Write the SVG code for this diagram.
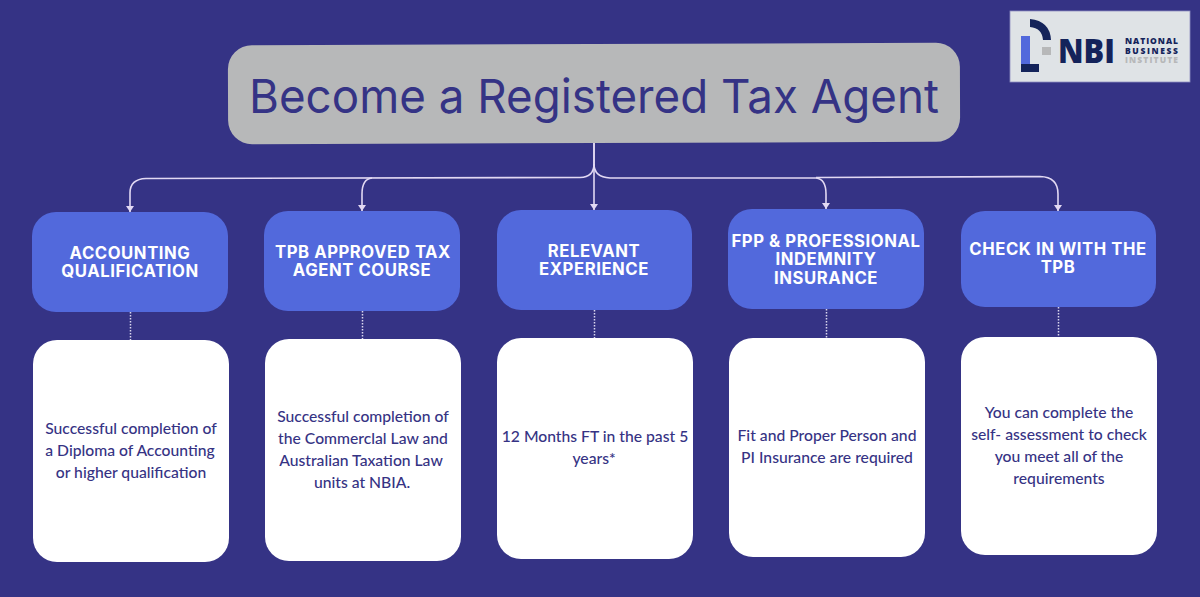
<svg xmlns="http://www.w3.org/2000/svg" width="1200" height="597" viewBox="0 0 1200 597">
<style>
.h{fill:#5269dc}
.w{fill:#fff}
.ht{font:700 16.700px Inter,"Liberation Sans",sans-serif;letter-spacing:.55px;fill:#fff;text-anchor:middle}
.bt{font:500 15.700px Lato,"Liberation Sans",sans-serif;fill:#363384;text-anchor:middle}
.c{fill:none;stroke:#e2d9f3;stroke-width:1.6}
.d{fill:none;stroke:#d9d6ee;stroke-width:1.5;stroke-dasharray:1.5 1.5}
.lg{font-family:"Open Sans","Liberation Sans",sans-serif;font-weight:800;fill:#14235a}
</style>
<defs>
<marker id="a" markerUnits="userSpaceOnUse" markerWidth="6" markerHeight="8" refX="6" refY="4" orient="auto" viewBox="0 0 6 8">
<path d="M0 0L6 4L0 8Z" fill="#e2d9f3"/>
</marker>
</defs>
<rect width="1200" height="597" fill="#353385"/>

<g id="connectors">
<path class="c" d="M594 143V164Q594 177 580 177.500L146 178.500Q130 179 130 193V212" marker-end="url(#a)"/>
<path class="c" d="M372 178Q362 179 362 194V211" marker-end="url(#a)"/>
<path class="c" d="M594 143V210" marker-end="url(#a)"/>
<path class="c" d="M594 164Q594 177 610 178L816 178Q826 179 826 194V209" marker-end="url(#a)"/>
<path class="c" d="M816 177.500L1040 176.500Q1058 177 1058 194V211" marker-end="url(#a)"/>
<path class="d" d="M130.500 312V340M362.500 311V339M594.500 310V338M826.500 309V338M1058.500 307V337"/>
</g>

<g id="title">
<rect x="228" y="44" width="732" height="99" rx="24" fill="#b7b8b9" transform="rotate(-0.2 594 94)"/>
<text x="594" y="113" text-anchor="middle" font-family="Inter,'Liberation Sans',sans-serif" font-size="47" fill="#353385" textLength="690" lengthAdjust="spacingAndGlyphs">Become a Registered Tax Agent</text>
</g>

<g id="logo">
<rect x="1010" y="11" width="180" height="71" fill="#dfe3e6" stroke="#8f8fc0" stroke-width="0.8"/>
<path d="M1030 19Q1050 21 1051 40H1043Q1042 28 1030 27Z" fill="#14235a"/>
<rect x="1021" y="36" width="9" height="28" fill="#5269dc"/>
<rect x="1021" y="64" width="18" height="8" fill="#14235a"/>
<rect x="1042" y="47" width="9" height="8" fill="#b7b8b9"/>
<text class="lg" x="1058" y="63" font-size="34" textLength="57" lengthAdjust="spacingAndGlyphs">NBI</text>
<text class="lg" x="1125" y="44" font-size="8.500" textLength="53" lengthAdjust="spacing">NATIONAL</text>
<text class="lg" x="1125" y="53.500" font-size="8.500" textLength="53" lengthAdjust="spacing">BUSINESS</text>
<text class="lg" x="1125" y="63" font-size="8.500" textLength="53" lengthAdjust="spacing" style="fill:#b7b8b9">INSTITUTE</text>
</g>

<g id="head1"><rect class="h" x="32" y="212" width="196" height="100" rx="24"/>
<text class="ht" x="130" y="259">ACCOUNTING</text><text class="ht" x="130" y="277">QUALIFICATION</text></g>
<g id="head2"><rect class="h" x="264" y="211" width="196" height="100" rx="24"/>
<text class="ht" x="363" y="258">TPB APPROVED TAX</text><text class="ht" x="362" y="276">AGENT COURSE</text></g>
<g id="head3"><rect class="h" x="497" y="210" width="195" height="100" rx="24"/>
<text class="ht" x="594" y="257">RELEVANT</text><text class="ht" x="594" y="275">EXPERIENCE</text></g>
<g id="head4"><rect class="h" x="728" y="209" width="196" height="100" rx="24"/>
<text class="ht" x="826" y="247">FPP &amp; PROFESSIONAL</text><text class="ht" x="826" y="265">INDEMNITY</text><text class="ht" x="826" y="284">INSURANCE</text></g>
<g id="head5"><rect class="h" x="961" y="211" width="195" height="96" rx="24"/>
<text class="ht" x="1058" y="255">CHECK IN WITH THE</text><text class="ht" x="1058" y="273">TPB</text></g>

<g id="card1"><rect class="w" x="33" y="340" width="196" height="222" rx="24"/>
<text class="bt" x="131" y="434">Successful completion of</text><text class="bt" x="130" y="456">a Diploma of Accounting</text><text class="bt" x="131" y="478">or higher qualification</text></g>
<g id="card2"><rect class="w" x="265" y="339" width="196" height="222" rx="24"/>
<text class="bt" x="363" y="422">Successful completion of</text><text class="bt" x="363" y="444">the Commerclal Law and</text><text class="bt" x="361" y="466">Australian Taxation Law</text><text class="bt" x="362" y="488">units at NBIA.</text></g>
<g id="card3"><rect class="w" x="497" y="338" width="196" height="221" rx="24"/>
<text class="bt" x="595" y="442">12 Months FT in the past 5</text><text class="bt" x="594" y="464">years*</text></g>
<g id="card4"><rect class="w" x="729" y="338" width="196" height="219" rx="24"/>
<text class="bt" x="827" y="441">Fit and Proper Person and</text><text class="bt" x="827" y="463">PI Insurance are required</text></g>
<g id="card5"><rect class="w" x="961" y="337" width="196" height="218" rx="24"/>
<text class="bt" x="1059" y="418">You can complete the</text><text class="bt" x="1059" y="440">self- assessment to check</text><text class="bt" x="1059" y="462">you meet all of the</text><text class="bt" x="1059" y="484">requirements</text></g>
</svg>
